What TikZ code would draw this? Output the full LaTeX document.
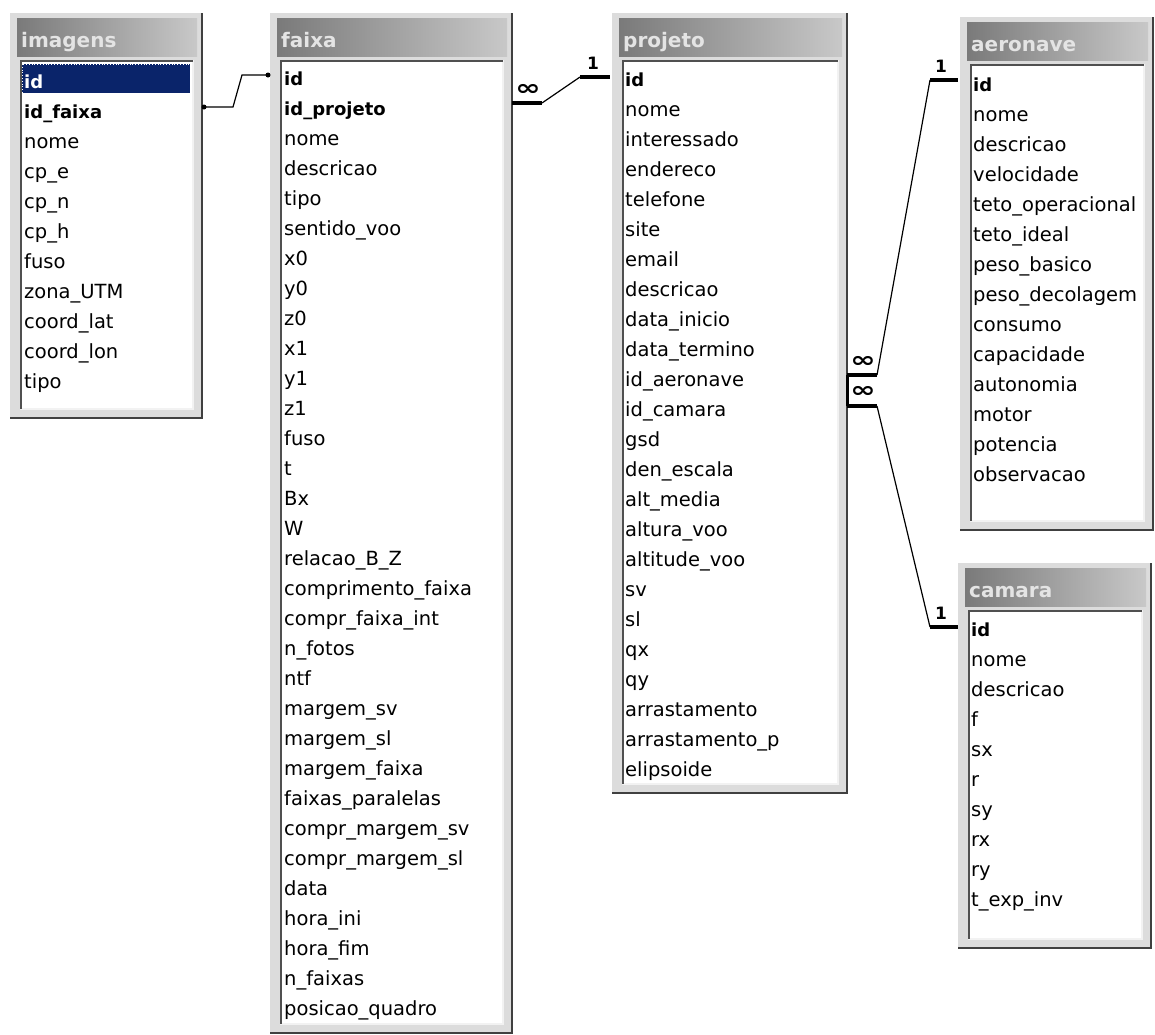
\documentclass[tikz,border=0pt]{standalone}
\usepackage{fontspec}
\setmainfont{DejaVu Sans}
\definecolor{framegray}{HTML}{DCDCDC}
\definecolor{shadowgray}{HTML}{404040}
\definecolor{hdrdark}{HTML}{7A7A7A}
\definecolor{hdrlight}{HTML}{C8C8C8}
\definecolor{ttlgray}{HTML}{E4E4E4}
\definecolor{innerdark}{HTML}{505050}
\definecolor{innerlight}{HTML}{F2F2F2}
\definecolor{selnavy}{HTML}{0A246A}
\newcommand\keyf{\fontsize{18}{20}\selectfont\bfseries}
\tikzset{
  rowtxt/.style={anchor=base west, inner sep=0pt, font=\fontsize{19.5}{21}\selectfont},
  ttl/.style={anchor=base west, inner sep=0pt, font=\fontsize{20}{22}\selectfont\bfseries, text=ttlgray},
  thickend/.style={line width=4.5pt},
  relline/.style={line width=1.2pt},
  cardinf/.style={inner sep=0pt, font=\fontsize{19}{20}\selectfont\bfseries},
  cardone/.style={inner sep=0pt, font=\fontsize{17}{18}\selectfont\bfseries}
}
% #1 prefix, #2 L, #3 T, #4 R, #5 B, #6 title
\newcommand\tablewin[6]{%
  \fill[framegray] (#2,#3) rectangle (#4,#5);
  \draw[line width=2pt, shadowgray] (#4,#3) -- (#4,#5) -- (#2,#5);
  \shade[left color=hdrdark, right color=hdrlight] (#2+7,#3+5) rectangle (#4-5,#3+43);
  \node[ttl] (#1-title) at (#2+11,#3+34) {#6};
  \fill[white] (#2+10,#3+47) rectangle (#4-9,#5-9);
  \draw[line width=1.5pt, innerlight] (#2+10,#5-9) -- (#4-9,#5-9) -- (#4-9,#3+47);
  \draw[line width=2.2pt, innerdark] (#2+11,#5-9) -- (#2+11,#3+48) -- (#4-9,#3+48);
}
% #1 prefix, #2 x, #3 first baseline, #4 list
\newcommand\tablerows[4]{%
  \foreach \t [count=\i from 0] in {#4} {
    \node[rowtxt] (#1-\i) at (#2,#3+30*\i) {\t};
  }
}
\begin{document}
\begin{tikzpicture}[x=1pt,y=-1pt]
\useasboundingbox[fill=white] (0,0) rectangle (1155,1034);

% ---------- imagens ----------
\tablewin{im}{10}{13}{202}{418}{imagens}
\fill[selnavy] (22,64) rectangle (190,93);
\draw[white, dotted, line width=0.8pt] (22,64) rectangle (190,93);
\tablerows{im}{24}{88}{{\color{white}\keyf id},{\keyf id\_faixa},nome,cp\_e,cp\_n,cp\_h,fuso,zona\_UTM,coord\_lat,coord\_lon,tipo}

% ---------- faixa ----------
\tablewin{fa}{270}{13}{512}{1033}{faixa}
\tablerows{fa}{284}{85}{{\keyf id},{\keyf id\_projeto},nome,descricao,tipo,sentido\_voo,x0,y0,z0,x1,y1,z1,fuso,t,Bx,W,relacao\_B\_Z,comprimento\_faixa,compr\_faixa\_int,n\_fotos,ntf,margem\_sv,margem\_sl,margem\_faixa,faixas\_paralelas,compr\_margem\_sv,compr\_margem\_sl,data,hora\_ini,hora\_fim,n\_faixas,posicao\_quadro}

% ---------- projeto ----------
\tablewin{pr}{612}{13}{847}{793}{projeto}
\tablerows{pr}{625}{86}{{\keyf id},nome,interessado,endereco,telefone,site,email,descricao,data\_inicio,data\_termino,id\_aeronave,id\_camara,gsd,den\_escala,alt\_media,altura\_voo,altitude\_voo,sv,sl,qx,qy,arrastamento,arrastamento\_p,elipsoide}

% ---------- aeronave ----------
\tablewin{ae}{960}{17}{1153}{530}{aeronave}
\tablerows{ae}{973}{91}{{\keyf id},nome,descricao,velocidade,teto\_operacional,teto\_ideal,peso\_basico,peso\_decolagem,consumo,capacidade,autonomia,motor,potencia,observacao}

% ---------- camara ----------
\tablewin{ca}{958}{563}{1151}{948}{camara}
\tablerows{ca}{971}{636}{{\keyf id},nome,descricao,f,sx,r,sy,rx,ry,t\_exp\_inv}

% ---------- relationship imagens -> faixa ----------
\coordinate (r1s) at (204,107);
\coordinate (r1a) at (233,107);
\coordinate (r1b) at (242,75);
\coordinate (r1e) at (268,75);
\draw[relline] (r1s) -- (r1a) -- (r1b) -- (r1e);
\fill (r1s) circle (2.5);
\fill (r1e) circle (2.5);

% ---------- relationship faixa -> projeto ----------
\coordinate (r2s) at (512,103);
\coordinate (r2a) at (542,103);
\coordinate (r2b) at (580,77);
\coordinate (r2e) at (610,77);
\draw[thickend] (r2s) -- (r2a);
\draw[relline] (r2a) -- (r2b);
\draw[thickend] (r2b) -- (r2e);
\node[cardinf] (r2many) at (528,90) {\scalebox{1.6}[1.15]{∞}};
\node[cardone] (r2one) at (593,63) {1};

% ---------- relationship projeto -> aeronave ----------
\coordinate (r3s) at (847,375);
\coordinate (r3a) at (877,375);
\coordinate (r3b) at (930,80);
\coordinate (r3e) at (958,80);
\draw[thickend] (r3s) -- (r3a);
\draw[relline] (r3a) -- (r3b);
\draw[thickend] (r3b) -- (r3e);
\node[cardinf] (r3many) at (863,362) {\scalebox{1.6}[1.15]{∞}};
\node[cardone] (r3one) at (941,66) {1};

% ---------- relationship projeto -> camara ----------
\coordinate (r4s) at (847,406);
\coordinate (r4a) at (877,406);
\coordinate (r4b) at (930,627);
\coordinate (r4e) at (958,627);
\draw[thickend] (r4s) -- (r4a);
\draw[relline] (r4a) -- (r4b);
\draw[thickend] (r4b) -- (r4e);
\node[cardinf] (r4many) at (863,392) {\scalebox{1.6}[1.15]{∞}};
\node[cardone] (r4one) at (941,613) {1};
\draw[line width=3pt] (r3s) -- (r4s);
\end{tikzpicture}
\end{document}
